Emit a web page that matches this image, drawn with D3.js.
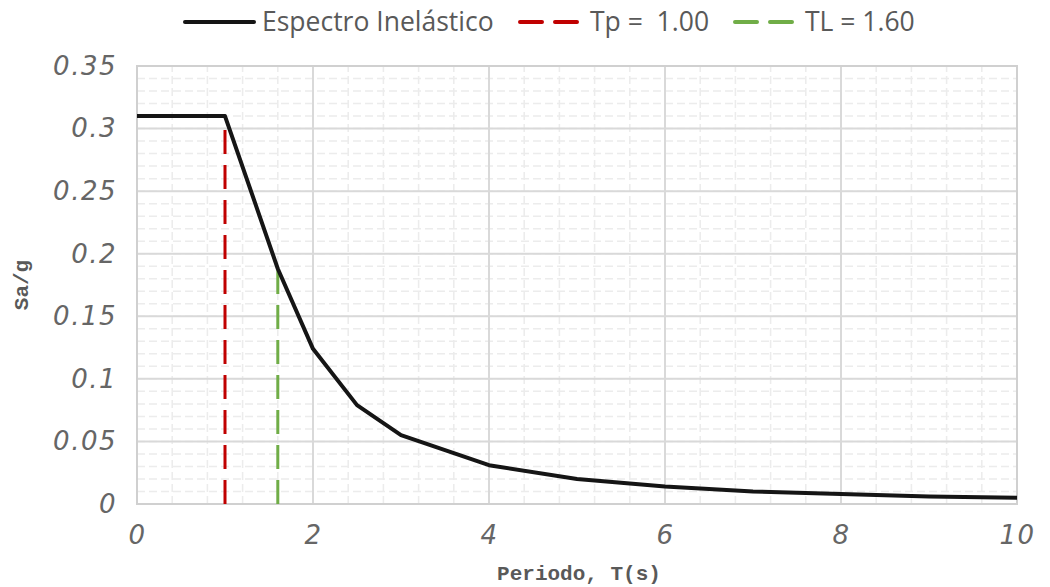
<!DOCTYPE html>
<html>
<head>
<meta charset="utf-8">
<script src="https://cdn.jsdelivr.net/npm/d3@7"></script>
<style>
  body { margin: 0; background: #fff; }
  #chart { width: 1050px; height: 587px; }
</style>
</head>
<body>
<div id="chart"></div>
<script>
// Spectrum values
const periods = [0, 1.0, 1.6, 2.0, 2.5, 3, 4, 5, 6, 7, 8, 9, 10];
const saValues = [0.31, 0.31, 0.188, 0.124, 0.079, 0.055, 0.031, 0.020, 0.014, 0.010, 0.008, 0.006, 0.005];

// Vertical markers for Tp and TL
const tpLine = [[1.0, 0], [1.0, 0.3]];
const tlLine = [[1.6, 0], [1.6, 0.187]];

const xTicks = [0, 2, 4, 6, 8, 10];
const yTicks = [0, 0.05, 0.1, 0.15, 0.2, 0.25, 0.3, 0.35];
const yTickLabels = ["0", "0.05", "0.1", "0.15", "0.2", "0.25", "0.3", "0.35"];

const legendItems = [
    { label: "Espectro Inelástico", color: "#151515", dash: null },
    { label: "Tp =  1.00", color: "#c00000", dash: "11,8" },
    { label: "TL = 1.60", color: "#70ad47", dash: "11,8" }
];

const width = 1050, height = 587;
const margin = { top: 66, right: 33, bottom: 83, left: 137 };

const svg = d3.select("#chart").append("svg")
    .attr("width", width)
    .attr("height", height);

const x = d3.scaleLinear().domain([0, 10]).range([margin.left, width - margin.right]);
const y = d3.scaleLinear().domain([0, 0.35]).range([height - margin.bottom, margin.top]);

// Minor grid (dashed)
const minorX = d3.range(0, 10.001, 0.4);
const minorY = d3.range(0, 0.3501, 0.01);
const minor = svg.append("g")
    .attr("stroke", "#ececec")
    .attr("stroke-width", 1.5)
    .attr("stroke-dasharray", "8,4");
minor.selectAll(".mx").data(minorX).join("line")
    .attr("x1", d => x(d)).attr("x2", d => x(d))
    .attr("y1", y(0)).attr("y2", y(0.35));
minor.selectAll(".my").data(minorY).join("line")
    .attr("x1", x(0)).attr("x2", x(10))
    .attr("y1", d => y(d)).attr("y2", d => y(d));

// Major grid
const major = svg.append("g").attr("stroke", "#d9d9d9").attr("stroke-width", 2);
major.selectAll(".gx").data(xTicks).join("line")
    .attr("x1", d => x(d)).attr("x2", d => x(d))
    .attr("y1", y(0)).attr("y2", y(0.35));
major.selectAll(".gy").data(yTicks).join("line")
    .attr("x1", x(0)).attr("x2", x(10))
    .attr("y1", d => y(d)).attr("y2", d => y(d));

// Axes (labels only, lines come from the grid)
const tickFont = "'DejaVu Sans', sans-serif";
const xAxis = svg.append("g")
    .attr("transform", `translate(0,${y(0)})`)
    .call(d3.axisBottom(x).tickValues(xTicks).tickSize(0).tickPadding(22).tickFormat(d3.format("d")));
const yAxis = svg.append("g")
    .attr("transform", `translate(${x(0)},0)`)
    .call(d3.axisLeft(y).tickValues(yTicks).tickSize(0).tickPadding(20).tickFormat((d, i) => yTickLabels[i]));
[xAxis, yAxis].forEach(a => {
    a.select(".domain").remove();
    a.selectAll("text")
        .attr("fill", "#666")
        .style("font-family", tickFont)
        .style("font-size", "26px")
        .style("font-style", "italic")
        .style("font-weight", 200)
        .style("letter-spacing", "1.5px");
});

// Plot border
svg.append("rect")
    .attr("x", x(0)).attr("y", y(0.35))
    .attr("width", x(10) - x(0)).attr("height", y(0) - y(0.35))
    .attr("fill", "none").attr("stroke", "#d0d0d0").attr("stroke-width", 2);

// Tp and TL marker lines (drawn bottom-up so dashes start at the axis)
const markerLine = d3.line().x(d => x(d[0])).y(d => y(d[1]));
svg.append("path").datum(tpLine)
    .attr("d", markerLine)
    .attr("fill", "none").attr("stroke", "#c00000")
    .attr("stroke-width", 3).attr("stroke-dasharray", "24,11");
svg.append("path").datum(tlLine)
    .attr("d", markerLine)
    .attr("fill", "none").attr("stroke", "#70ad47")
    .attr("stroke-width", 3).attr("stroke-dasharray", "24,11");

// Spectrum line
const spectrum = periods.map((t, i) => [t, saValues[i]]);
svg.append("path").datum(spectrum)
    .attr("d", markerLine)
    .attr("fill", "none").attr("stroke", "#151515")
    .attr("stroke-width", 4).attr("stroke-linejoin", "round");

// Axis titles
svg.append("text")
    .attr("x", (x(0) + x(10)) / 2 + 2).attr("y", 580)
    .attr("text-anchor", "middle")
    .attr("fill", "#595959")
    .style("font-family", "'Liberation Mono', monospace")
    .style("font-weight", "bold")
    .style("font-size", "21px")
    .text("Periodo, T(s)");
svg.append("text")
    .attr("transform", `translate(28,${(y(0) + y(0.35)) / 2}) rotate(-90)`)
    .attr("text-anchor", "middle")
    .attr("fill", "#595959")
    .style("font-family", "'Liberation Mono', monospace")
    .style("font-weight", "bold")
    .style("font-size", "21px")
    .text("Sa/g");

// Legend
const legendX = [185, 520, 735];
const legend = svg.append("g");
legendItems.forEach((item, i) => {
    const g = legend.append("g").attr("transform", `translate(${legendX[i]},22)`);
    g.append("line")
        .attr("x1", 0).attr("x2", 69).attr("y1", 0).attr("y2", 0)
        .attr("stroke", item.color)
        .attr("stroke-width", 4)
        .attr("stroke-linecap", "round")
        .attr("stroke-dasharray", item.dash ? "22,13" : null);
    g.append("text")
        .attr("x", i === 0 ? 77 : 70).attr("y", 9)
        .attr("fill", "#595959")
        .style("font-family", "'Open Sans', sans-serif")
        .style("font-size", "26.5px")
        .style("white-space", "pre")
        .text(item.label);
});
</script>
</body>
</html>
